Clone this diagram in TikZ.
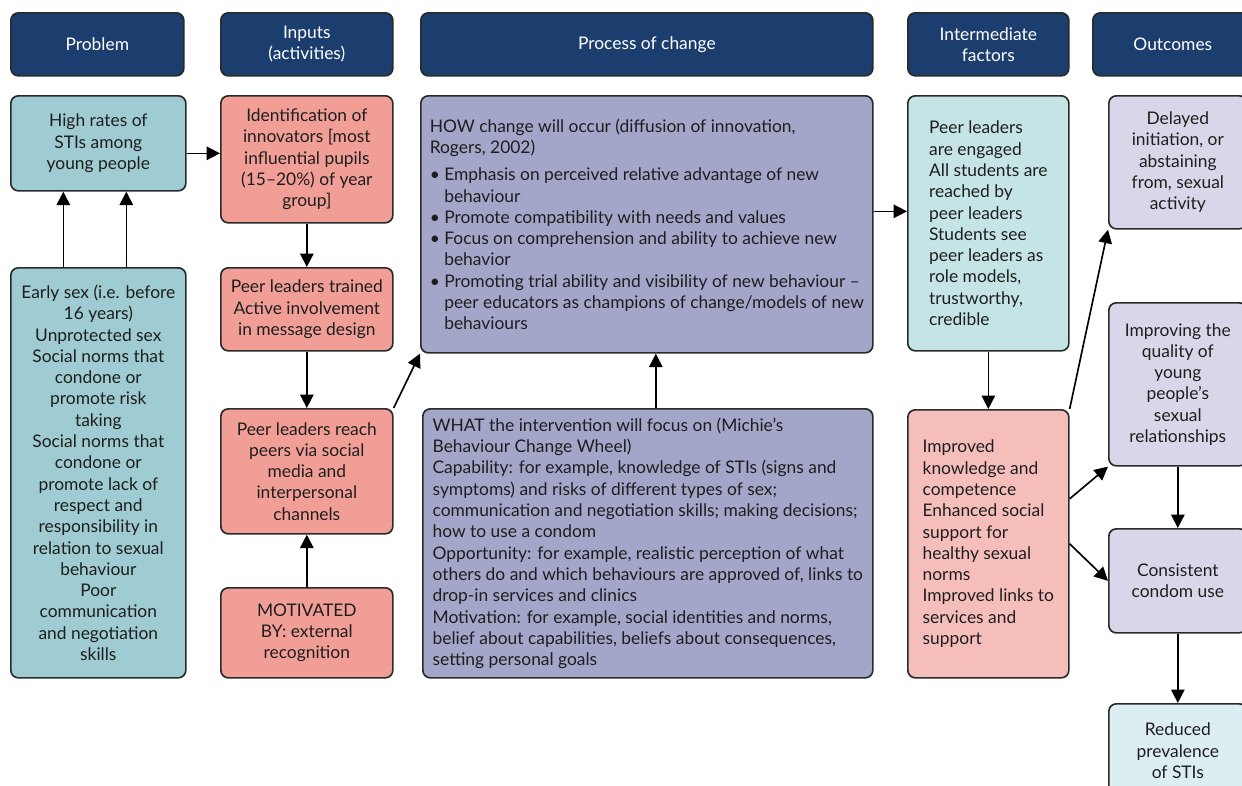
\documentclass[tikz,border=0pt]{standalone}
\usepackage{fontspec}
\setmainfont{Lato}
\usepackage{tikz}
\usetikzlibrary{positioning}
\usetikzlibrary{calc}
\usetikzlibrary{arrows.meta}
\newcommand{\pxu}{0.667pt}
\definecolor{hdrnavy}{HTML}{1B3E6F}
\definecolor{probteal}{HTML}{9FCBD3}
\definecolor{inpsalmon}{HTML}{F19F96}
\definecolor{procviolet}{HTML}{A3A5C9}
\definecolor{intteal}{HTML}{C5E4E6}
\definecolor{intpink}{HTML}{F5BEBB}
\definecolor{outlav}{HTML}{D7D7E9}
\definecolor{outblue}{HTML}{DDEEF3}
\definecolor{edgegray}{HTML}{2A2A2A}
\definecolor{txtgray}{HTML}{1E1E1E}
\tikzset{every picture/.style={line width=1.1pt}}

\begin{document}
\begin{tikzpicture}[x=\pxu, y=-\pxu,
  every node/.style={font=\fontsize{11.6}{14.2}\selectfont, text=txtgray},
  box/.style={draw=edgegray, rounded corners=5pt, anchor=north west, inner sep=0pt, align=center},
  hdr/.style={box, fill=hdrnavy, text=white, minimum height=63*\pxu},
  sz/.style 2 args={minimum width=#1*\pxu, minimum height=#2*\pxu},
  arr/.style={-{Triangle[length=9pt,width=9pt]}, draw=black}]
\path[fill=white, use as bounding box] (0,0) rectangle (1242,786);

\foreach \nm/\x/\w/\txt in {hprob/10/173/Problem, hinp/220/172/{Inputs\\(activities)}, hproc/420/452/Process of change, hinter/907/161/{Intermediate\\factors}, hout/1092/160/Outcomes} {
\node[hdr, minimum width=\w*\pxu] (\nm) at (\x,12) {\txt};
}

\node[box, fill=probteal, sz={175}{95}] (high) at (10,95) {High rates of\\STIs among\\young people};
\node[box, fill=probteal, sz={175}{410}] (early) at (10,267) {Early sex (i.e. before\\16 years)\\Unprotected sex\\Social norms that\\condone or\\promote risk\\taking\\Social norms that\\condone or\\promote lack of\\respect and\\responsibility in\\relation to sexual\\behaviour\\Poor\\communication\\and negotiation\\skills};

\node[box, fill=inpsalmon, sz={172}{127}] (ident) at (220,95) {Identification of\\innovators [most\\influential pupils\\(15–20\%) of year\\group]};
\node[box, fill=inpsalmon, sz={172}{83}] (train) at (220,267) {Peer leaders trained\\Active involvement\\in message design};
\node[box, fill=inpsalmon, sz={172}{125}] (reach) at (220,408) {Peer leaders reach\\peers via social\\media and\\interpersonal\\channels};
\node[box, fill=inpsalmon, sz={172}{90}] (motiv) at (220,587) {MOTIVATED\\BY: external\\recognition};

\node[box, fill=procviolet, sz={452}{257}, align=left] (how) at (420,95) {HOW change will occur (diffusion of innovation,\\Rogers, 2002)\\[4pt]
\textbullet\ Emphasis on perceived relative advantage of new\\\phantom{\textbullet\ }behaviour\\
\textbullet\ Promote compatibility with needs and values\\
\textbullet\ Focus on comprehension and ability to achieve new\\\phantom{\textbullet\ }behavior\\
\textbullet\ Promoting trial ability and visibility of new behaviour –\\\phantom{\textbullet\ }peer educators as champions of change/models of new\\\phantom{\textbullet\ }behaviours};
\node[box, fill=procviolet, sz={450}{269}, align=left] (what) at (422,408) {WHAT the intervention will focus on (Michie’s\\Behaviour Change Wheel)\\Capability: for example, knowledge of STIs (signs and\\symptoms) and risks of different types of sex;\\communication and negotiation skills; making decisions;\\how to use a condom\\Opportunity: for example, realistic perception of what\\others do and which behaviours are approved of, links to\\drop-in services and clinics\\Motivation: for example, social identities and norms,\\belief about capabilities, beliefs about consequences,\\setting personal goals};

\node[box, fill=intteal, sz={161}{255}, align=left] (engage) at (907,95) {Peer leaders\\are engaged\\All students are\\reached by\\peer leaders\\Students see\\peer leaders as\\role models,\\trustworthy,\\credible};
\node[box, fill=intpink, sz={161}{268}, align=left] (gain) at (907,409) {Improved\\knowledge and\\competence\\Enhanced social\\support for\\healthy sexual\\norms\\Improved links to\\services and\\support};

\node[box, fill=outlav, sz={138}{133}] (delay) at (1108,95) {Delayed\\initiation, or\\abstaining\\from, sexual\\activity};
\node[box, fill=outlav, sz={138}{163}] (quality) at (1108,302) {Improving the\\quality of\\young\\people’s\\sexual\\relationships};
\node[box, fill=outlav, sz={138}{104}] (condom) at (1108,528) {Consistent\\condom use};
\node[box, fill=outblue, sz={138}{94}] (stis) at (1108,703) {Reduced\\prevalence\\of STIs};

\draw[arr] ($(early.north)+(-35,0)$) -- ($(high.south)+(-35,0)$);
\draw[arr] ($(early.north)+(28,0)$) -- ($(high.south)+(28,0)$);
\coordinate (hi) at ($(high.east)+(0,10)$);
\draw[arr] (hi) -- (hi -| ident.west);
\draw[arr] (ident.south) -- (train.north);
\draw[arr] (train.south) -- (reach.north);
\draw[arr] (motiv.north) -- (reach.south);
\draw[arr] (reach.north east) -- (how.south west);
\coordinate (wt) at ($(what.north)+(8,0)$);
\draw[arr] (wt) -- (wt |- how.south);
\coordinate (hw) at ($(how.east)+(0,-13)$);
\draw[arr] (hw) -- (hw -| engage.west);
\draw[arr] (engage.south) -- (gain.north);
\draw[arr] (gain.north east) -- (delay.south west);
\draw[arr] ($(gain.east)+(0,-45)$) -- (quality.south west);
\draw[arr] (gain.east) -- (condom.west);
\draw[arr] (quality.south) -- (condom.north);
\draw[arr] (condom.south) -- (stis.north);
\end{tikzpicture}
\end{document}
